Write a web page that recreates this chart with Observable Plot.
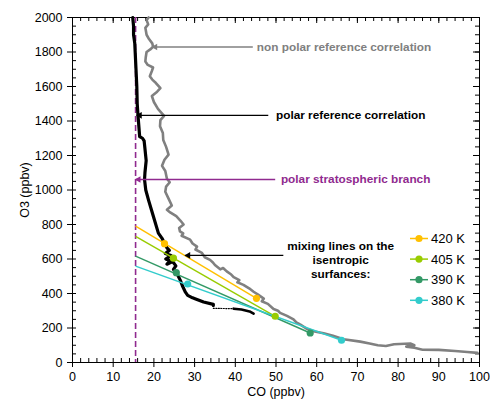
<!DOCTYPE html>
<html>
<head>
<meta charset="utf-8">
<script src="https://cdn.jsdelivr.net/npm/d3@7"></script>
<script src="https://cdn.jsdelivr.net/npm/@observablehq/plot@0.6"></script>
<style>
  html, body { margin: 0; padding: 0; background: #fff; }
  #chart svg { display: block; }
</style>
</head>
<body>
<div id="chart"></div>
<script>
// ---- data ----
const xTicks = [0, 10, 20, 30, 40, 50, 60, 70, 80, 90, 100];
const yTicks = [0, 200, 400, 600, 800, 1000, 1200, 1400, 1600, 1800, 2000];

// non polar reference correlation [CO, O3]
const nonPolar = [
  [18.7,2000],[18.2,1985],[18.6,1960],[17.9,1940],[18.2,1900],[18.8,1875],[19.6,1850],[19.8,1830],
  [19.1,1815],[18.2,1800],[18.0,1770],[17.9,1745],[18.5,1725],[19.8,1710],[19.5,1690],[19.0,1660],
  [19.6,1640],[20.5,1620],[21.6,1590],[20.8,1570],[19.5,1545],[20.0,1510],[21.0,1470],[22.5,1430],
  [21.6,1405],[21.5,1370],[22.2,1330],[22.3,1290],[23.0,1250],[23.6,1205],[22.6,1175],[22.0,1140],
  [22.8,1110],[23.2,1065],[23.9,1045],[23.0,1020],[22.8,990],[23.6,950],[24.4,910],[23.2,885],
  [24.0,870],[25.5,848],[26.5,823],[27.3,800],[26.2,780],[26.4,760],[27.2,748],[26.8,735],
  [28.9,712],[29.5,690],[30.6,672],[30.2,655],[31.8,635],[32.5,610],[33.8,595],[34.5,580],
  [35.0,565],[36.3,540],[37.0,548],[37.9,528],[39.0,510],[39.6,495],[41.0,478],[40.5,465],
  [42.0,450],[43.7,425],[44.5,410],[45.5,395],[47.0,370],[46.5,355],[48.0,340],[49.4,310],
  [50.5,300],[51.0,288],[52.7,270],[54.3,250],[55.0,232],[56.0,220],[57.6,195],[59.5,180],
  [61.7,170],[64.0,155],[66.6,135],[70.7,121],[73.0,110],[75.0,100],[77.0,96],[79.0,106],
  [83.0,110],[84.0,100],[82.0,92],[84.0,85],[86.0,74],[90.0,73],[94.0,67],[97.0,61],[99.5,56]
];

// polar reference correlation [CO, O3]
const polar = [
  [14.8,2000],[15.0,1950],[15.0,1900],[15.3,1850],[15.4,1800],[15.6,1700],[15.8,1600],[15.9,1500],
  [16.1,1430],[16.3,1370],[16.5,1310],[17.2,1300],[17.6,1285],[17.8,1240],[18.1,1170],[17.8,1100],
  [17.7,1060],[18.0,1000],[18.7,940],[19.9,845],[21.1,750],[22.0,720],[22.6,690],[23.2,665],
  [23.8,650],[22.8,632],[24.2,620],[22.9,600],[24.0,590],[23.2,570],[24.6,585],[25.4,560],
  [24.8,540],[25.5,521],[26.0,500],[26.5,476],[27.0,445],[27.7,409],[28.3,389],[29.5,375],
  [30.1,370],[32.2,351],[34.6,337],[34.6,330]
];
const polarGap = [[34.6,314],[39.6,312]];
const polarTail = [[39.6,312],[41.5,307],[43.5,296],[44.5,283]];

// polar stratospheric branch (CO)
const branchCO = 15.5;

// mixing lines on the isentropic surfaces
const surfaces = ["420 K", "405 K", "390 K", "380 K"];
const surfaceColors = ["#FFC000", "#99CC00", "#339966", "#33CCCC"];
const startO3 = [790, 731, 617, 559];
const innerCO = [22.6, 24.8, 25.5, 28.3];
const innerO3 = [689, 605, 521, 455];
const outerCO = [45.2, 49.8, 58.4, 66.1];
const outerO3 = [372, 268, 171, 129];

// annotations
const annLabels = ["non polar reference correlation", "polar reference correlation", "polar stratospheric branch", ""];
const annColors = ["#808080", "#000000", "#902A8F", "#000000"];
const annO3 = [1829, 1433, 1061, 621];
const annTipCO = [19.6, 15.8, 15.5, 27.7];
const annTailCO = [44.3, 48.1, 49.8, 51.8];
const annTextCO = [45.3, 50.0, 51.2, null];
const mixText = "mixing lines on the\nisentropic\nsurfances:";
const mixTextCO = 65.9, mixTextO3 = 598;

// ---- derived tables ----
const mixLines = surfaces.map((s, i) => ({s, x1: branchCO, y1: startO3[i], x2: outerCO[i], y2: outerO3[i], c: surfaceColors[i]}));
const mixDots = surfaces.flatMap((s, i) => [
  {s, x: innerCO[i], y: innerO3[i], c: surfaceColors[i]},
  {s, x: outerCO[i], y: outerO3[i], c: surfaceColors[i]}
]);
const ann = annLabels.map((t, i) => ({t, c: annColors[i], y: annO3[i], tip: annTipCO[i], tail: annTailCO[i], tx: annTextCO[i]}));
const annText = ann.filter(d => d.t);

const ML = 72, MR = 11, MT = 17, MB = 38, WIDTH = 490, HEIGHT = 400;
const IW = WIDTH - ML - MR, IH = HEIGHT - MT - MB;
const xMinor = d3.range(0, 101, 2);
const yMinor = d3.range(0, 2001, 50);
const purple = "#902A8F";
const font = "'Liberation Sans', Arial, sans-serif";

const chart = Plot.plot({
  width: WIDTH, height: HEIGHT,
  marginLeft: ML, marginRight: MR, marginTop: MT, marginBottom: MB,
  style: {fontFamily: font, fontSize: "12.5px", color: "#000", background: "#fff"},
  x: {domain: [0, 100], ticks: xTicks, tickFormat: d => String(d), tickSize: 5, tickPadding: 5, label: "CO (ppbv)", labelAnchor: "center", labelOffset: 33, labelArrow: false},
  y: {domain: [0, 2000], ticks: yTicks, tickFormat: d => String(d), tickSize: 5, tickPadding: 5, label: "O3 (ppbv)", labelAnchor: "center", labelOffset: 52, labelArrow: false},
  marks: [
    Plot.frame({stroke: "#000", strokeWidth: 1}),
    // inward minor ticks
    Plot.tickX(xMinor, {x: d => d, insetTop: IH - 4, stroke: "#000"}),
    Plot.tickX(xMinor, {x: d => d, insetBottom: IH - 4, stroke: "#000"}),
    Plot.tickY(yMinor, {y: d => d, insetRight: IW - 4, stroke: "#000"}),
    Plot.tickY(yMinor, {y: d => d, insetLeft: IW - 4, stroke: "#000"}),
    Plot.tickY(yTicks, {y: d => d, insetLeft: IW - 6, stroke: "#000"}),
    Plot.tickX(xTicks, {x: d => d, insetBottom: IH - 6, stroke: "#000"}),
    // polar stratospheric branch
    Plot.ruleX([branchCO], {x: d => d, stroke: purple, strokeWidth: 1.6, strokeDasharray: "6,3"}),
    // non polar reference
    Plot.line(nonPolar, {x: d => d[0], y: d => d[1], stroke: "#808080", strokeWidth: 2.6, curve: "linear"}),
    // polar reference
    Plot.line(polar, {x: d => d[0], y: d => d[1], stroke: "#000", strokeWidth: 3.2}),
    Plot.line(polarGap, {x: d => d[0], y: d => d[1], stroke: "#000", strokeWidth: 1.2, strokeDasharray: "1,1.5"}),
    Plot.line(polarTail, {x: d => d[0], y: d => d[1], stroke: "#000", strokeWidth: 2.6}),
    // mixing lines
    Plot.link(mixLines, {x1: "x1", y1: "y1", x2: "x2", y2: "y2", stroke: "c", strokeWidth: 1.4}),
    Plot.dot(mixDots, {x: "x", y: "y", fill: "c", r: 3.6}),
    // annotations: line + filled triangle head
    Plot.link(ann, {x1: "tail", y1: "y", x2: "tip", y2: "y", stroke: "c", strokeWidth: 1.3}),
    Plot.dot(ann, {x: "tip", y: "y", symbol: "triangle2", rotate: -90, r: 3.2, fill: "c", dx: 3}),
    Plot.text(annText, {x: "tx", y: "y", text: "t", fill: "c", textAnchor: "start", fontWeight: "bold", fontSize: 11.8}),
    Plot.text([mixText], {x: mixTextCO, y: mixTextO3, text: d => d, textAnchor: "middle", fontWeight: "bold", fontSize: 11.8, lineHeight: 1.2})
  ]
});

document.getElementById("chart").appendChild(chart);

// legend inside plot area
const svg = d3.select(chart);
const lg = svg.append("g").attr("font-family", font).attr("font-size", 13).attr("text-anchor", "start");
surfaces.forEach((s, i) => {
  const y = 238.5 + i * 20.6;
  lg.append("line").attr("x1", 410).attr("x2", 428).attr("y1", y).attr("y2", y).attr("stroke", surfaceColors[i]).attr("stroke-width", 1.5);
  lg.append("circle").attr("cx", 419).attr("cy", y).attr("r", 3.6).attr("fill", surfaceColors[i]);
  lg.append("text").attr("x", 431).attr("y", y).attr("dy", "0.36em").attr("text-anchor", "start").attr("fill", "#000").text(s);
});
</script>
</body>
</html>
